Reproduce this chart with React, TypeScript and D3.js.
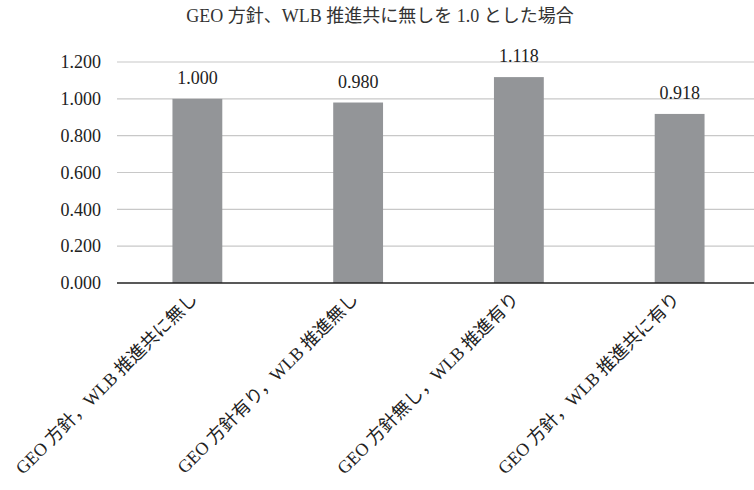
import React from "react";
import * as d3 from "d3";

const title = "GEO 方針、WLB 推進共に無しを 1.0 とした場合";
const categories = [
  "GEO 方針，WLB 推進共に無し",
  "GEO 方針有り，WLB 推進無し",
  "GEO 方針無し，WLB 推進有り",
  "GEO 方針，WLB 推進共に有り",
];
const values = [1.0, 0.98, 1.118, 0.918];
const yTicks = [0, 0.2, 0.4, 0.6, 0.8, 1.0, 1.2];

const W = 754;
const H = 490;
const FONT = '"Liberation Serif", "DejaVu Serif", "Noto Sans CJK JP", serif';

export default function App() {
  const left = 117;
  const x = d3
    .scaleBand<string>()
    .domain(categories)
    .range([left, 760])
    .paddingInner(0.69)
    .paddingOuter(0.345);
  const y = d3.scaleLinear().domain([0, 1.2]).range([283, 62]);
  const fmt = d3.format(".3f");

  return (
    <svg
      width={W}
      height={H}
      style={{ position: "absolute", left: 0, top: 0, background: "#fff", fontFamily: FONT }}
    >
      <text x={380} y={22} textAnchor="middle" fontSize={18} fill="#333">
        {title}
      </text>
      {yTicks.map((t) => (
        <g key={t}>
          {t > 0 && (
            <line x1={left} x2={W} y1={y(t)} y2={y(t)} stroke="#c8c8c8" strokeWidth={1.2} />
          )}
          <text
            x={101}
            y={y(t)}
            dy="0.35em"
            textAnchor="end"
            fontSize={18}
            fill="#222"
          >
            {fmt(t)}
          </text>
        </g>
      ))}
      {categories.map((c, i) => {
        const bx = x(c)!;
        const bw = x.bandwidth();
        return (
          <g key={c}>
            <rect x={bx} y={y(values[i])} width={bw} height={y(0) - y(values[i])} fill="#939598" />
            <text
              x={bx + bw / 2}
              y={y(values[i]) - 15}
              textAnchor="middle"
              fontSize={18}
              fill="#222"
            >
              {fmt(values[i])}
            </text>
            <text
              transform={`translate(${bx + bw / 2 + 1},${y(0) + 17}) rotate(-45)`}
              textAnchor="end"
              fontSize={18}
              fill="#222"
            >
              {c}
            </text>
          </g>
        );
      })}
      <line x1={left} x2={W} y1={y(0)} y2={y(0)} stroke="#222" strokeWidth={1.5} />
    </svg>
  );
}
